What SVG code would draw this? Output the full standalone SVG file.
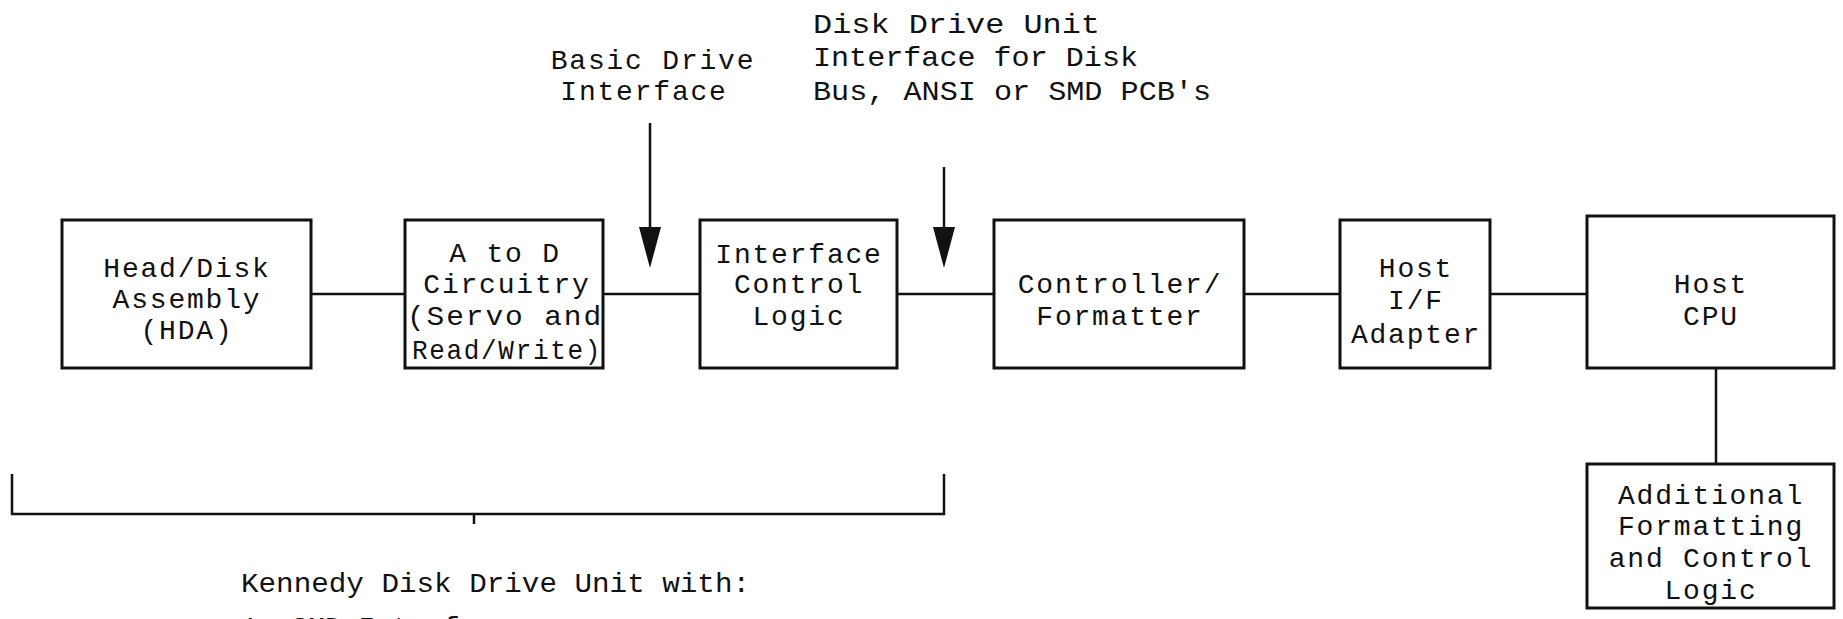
<svg xmlns="http://www.w3.org/2000/svg" width="1843" height="619" viewBox="0 0 1843 619">
<style>
.box{fill:#fff;stroke:#111;stroke-width:3}
.ln{stroke:#111;stroke-width:2.5;fill:none}
.t{font-family:"Liberation Mono","Courier New",monospace;font-size:28px;letter-spacing:1.8px;fill:#111;text-anchor:middle}
.n{font-family:"Liberation Mono","Courier New",monospace;font-size:28px;fill:#111}
</style>
<rect width="1843" height="619" fill="#fff"/>
<g id="connectors">
<line class="ln" x1="311" y1="294" x2="405" y2="294"/>
<line class="ln" x1="603" y1="294" x2="700" y2="294"/>
<line class="ln" x1="897" y1="294" x2="994" y2="294"/>
<line class="ln" x1="1244" y1="294" x2="1340" y2="294"/>
<line class="ln" x1="1490" y1="294" x2="1587" y2="294"/>
<line class="ln" x1="1716" y1="368" x2="1716" y2="464"/>
<line class="ln" x1="650" y1="123" x2="650" y2="230" stroke-width="2"/>
<polygon points="639,227 661,227 650,268" fill="#111"/>
<line class="ln" x1="944" y1="167" x2="944" y2="230" stroke-width="2"/>
<polygon points="933,227 955,227 944,268" fill="#111"/>
<polyline class="ln" points="12,474 12,514 944,514 944,474"/>
<line class="ln" x1="474" y1="514" x2="474" y2="524"/>
</g>
<g id="hda">
<rect class="box" x="62" y="220" width="249" height="148"/>
<text class="t" x="187" y="277">Head/Disk</text>
<text class="t" x="187" y="308">Assembly</text>
<text class="t" x="187" y="339">(HDA)</text>
</g>
<g id="atod">
<rect class="box" x="405" y="220" width="198" height="148"/>
<text class="t" x="505" y="262">A to D</text>
<text class="t" x="507" y="293">Circuitry</text>
<text class="t" x="505" y="325" textLength="196" lengthAdjust="spacingAndGlyphs">(Servo and</text>
<text class="t" x="507" y="359" textLength="190" lengthAdjust="spacingAndGlyphs">Read/Write)</text>
</g>
<g id="icl">
<rect class="box" x="700" y="220" width="197" height="148"/>
<text class="t" x="799" y="263">Interface</text>
<text class="t" x="799" y="293">Control</text>
<text class="t" x="799" y="325">Logic</text>
</g>
<g id="cf">
<rect class="box" x="994" y="220" width="250" height="148"/>
<text class="t" x="1120" y="293">Controller/</text>
<text class="t" x="1120" y="325">Formatter</text>
</g>
<g id="hif">
<rect class="box" x="1340" y="220" width="150" height="148"/>
<text class="t" x="1416" y="277">Host</text>
<text class="t" x="1416" y="309">I/F</text>
<text class="t" x="1416" y="343">Adapter</text>
</g>
<g id="cpu">
<rect class="box" x="1587" y="216" width="247" height="152"/>
<text class="t" x="1711" y="293">Host</text>
<text class="t" x="1711" y="325">CPU</text>
</g>
<g id="additional">
<rect class="box" x="1587" y="464" width="247" height="144"/>
<text class="t" x="1711" y="504">Additional</text>
<text class="t" x="1711" y="535">Formatting</text>
<text class="t" x="1711" y="567">and Control</text>
<text class="t" x="1711" y="599">Logic</text>
</g>
<g id="labels">
<text class="t" x="653" y="69">Basic Drive</text>
<text class="t" x="644" y="100">Interface</text>
<text class="n" x="813" y="33" textLength="287" lengthAdjust="spacingAndGlyphs">Disk Drive Unit</text>
<text class="n" x="813" y="66" textLength="325" lengthAdjust="spacingAndGlyphs">Interface for Disk</text>
<text class="n" x="813" y="100" textLength="398" lengthAdjust="spacingAndGlyphs">Bus, ANSI or SMD PCB's</text>
<text class="n" x="241" y="592" textLength="509" lengthAdjust="spacingAndGlyphs">Kennedy Disk Drive Unit with:</text>
<text class="n" x="241" y="636">1.  SMD Interface</text>
</g>
</svg>
